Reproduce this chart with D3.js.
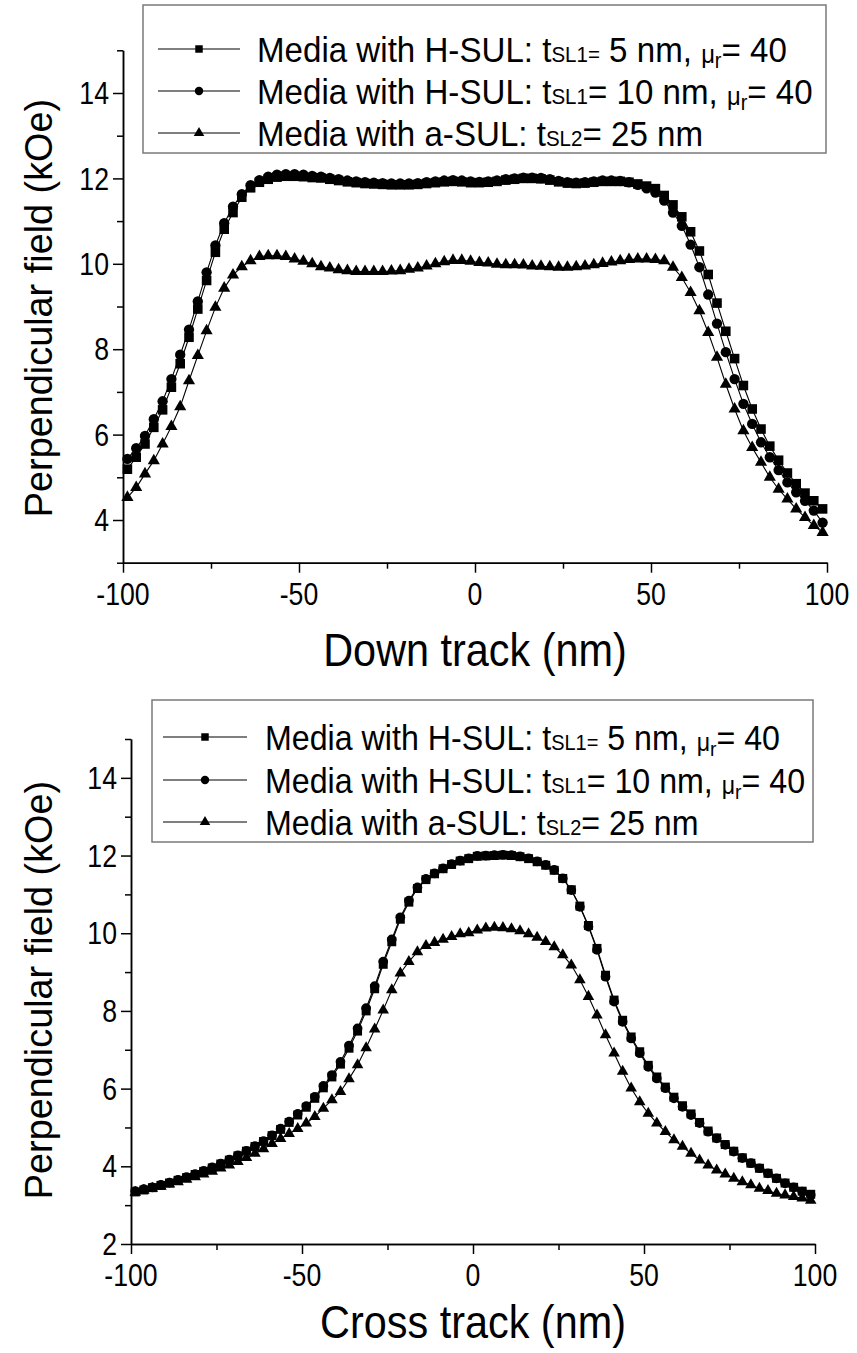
<!DOCTYPE html>
<html>
<head>
<meta charset="utf-8">
<script src="https://cdn.jsdelivr.net/npm/d3@7"></script>
<style>
  body { margin: 0; background: #fff; }
  svg text { font-family: "Liberation Sans", Arial, sans-serif; fill: #000; }
</style>
</head>
<body>
<div id="wrapper"></div>
<script>
// 1. Data

// sample positions (nm), shared by both panels
const positionNm = [
  -98.75, -96.25, -93.75, -91.25, -88.75, -86.25, -83.75, -81.25, -78.75, -76.25,
  -73.75, -71.25, -68.75, -66.25, -63.75, -61.25, -58.75, -56.25, -53.75, -51.25,
  -48.75, -46.25, -43.75, -41.25, -38.75, -36.25, -33.75, -31.25, -28.75, -26.25,
  -23.75, -21.25, -18.75, -16.25, -13.75, -11.25, -8.75, -6.25, -3.75, -1.25,
  1.25, 3.75, 6.25, 8.75, 11.25, 13.75, 16.25, 18.75, 21.25, 23.75,
  26.25, 28.75, 31.25, 33.75, 36.25, 38.75, 41.25, 43.75, 46.25, 48.75,
  51.25, 53.75, 56.25, 58.75, 61.25, 63.75, 66.25, 68.75, 71.25, 73.75,
  76.25, 78.75, 81.25, 83.75, 86.25, 88.75, 91.25, 93.75, 96.25, 98.75
];

// down track panel (kOe)
const downHsul5 = [
  5.19, 5.47, 5.78, 6.17, 6.58, 7.11, 7.66, 8.28, 8.94, 9.61,
  10.27, 10.81, 11.20, 11.56, 11.78, 11.91, 11.98, 12.03, 12.05, 12.05,
  12.04, 12.02, 12.01, 11.98, 11.95, 11.92, 11.90, 11.88, 11.87, 11.86,
  11.85, 11.85, 11.85, 11.86, 11.88, 11.90, 11.92, 11.93, 11.92, 11.90,
  11.90, 11.91, 11.93, 11.96, 11.98, 12.00, 12.00, 11.99, 11.96, 11.92,
  11.89, 11.88, 11.89, 11.91, 11.93, 11.93, 11.93, 11.91, 11.87, 11.82,
  11.76, 11.60, 11.38, 11.10, 10.75, 10.30, 9.75, 9.08, 8.42, 7.78,
  7.15, 6.60, 6.13, 5.73, 5.40, 5.10, 4.85, 4.63, 4.45, 4.26
];
const downHsul10 = [
  5.43, 5.68, 5.97, 6.36, 6.78, 7.30, 7.87, 8.46, 9.12, 9.80,
  10.43, 10.95, 11.34, 11.63, 11.84, 11.96, 12.04, 12.09, 12.10, 12.10,
  12.09, 12.06, 12.04, 12.01, 11.98, 11.95, 11.93, 11.91, 11.90, 11.89,
  11.88, 11.88, 11.88, 11.89, 11.91, 11.93, 11.95, 11.96, 11.95, 11.93,
  11.92, 11.93, 11.95, 11.98, 12.00, 12.02, 12.02, 12.01, 11.98, 11.94,
  11.91, 11.90, 11.91, 11.93, 11.95, 11.95, 11.94, 11.91, 11.85, 11.77,
  11.67, 11.48, 11.20, 10.89, 10.45, 9.92, 9.28, 8.60, 7.93, 7.30,
  6.72, 6.25, 5.82, 5.47, 5.17, 4.88, 4.65, 4.45, 4.22, 3.94
];
const downAsul = [
  4.53, 4.76, 5.08, 5.39, 5.78, 6.19, 6.65, 7.26, 7.85, 8.43,
  8.98, 9.43, 9.74, 9.93, 10.07, 10.17, 10.19, 10.19, 10.17, 10.11,
  10.06, 10.00, 9.93, 9.90, 9.86, 9.84, 9.82, 9.82, 9.82, 9.82,
  9.83, 9.84, 9.87, 9.90, 9.95, 10.00, 10.05, 10.08, 10.08, 10.06,
  10.03, 10.02, 9.99, 9.98, 9.98, 9.97, 9.95, 9.94, 9.93, 9.92,
  9.92, 9.93, 9.95, 9.98, 10.01, 10.04, 10.07, 10.10, 10.11, 10.11,
  10.10, 10.07, 9.92, 9.68, 9.33, 8.90, 8.39, 7.81, 7.18, 6.60,
  6.09, 5.70, 5.35, 5.00, 4.72, 4.49, 4.26, 4.06, 3.87, 3.71
];

// cross track panel (kOe)
const crossHsul5 = [
  3.34, 3.39, 3.45, 3.51, 3.57, 3.64, 3.71, 3.79, 3.87, 3.96,
  4.06, 4.16, 4.27, 4.39, 4.51, 4.64, 4.79, 4.95, 5.13, 5.32,
  5.52, 5.75, 6.02, 6.30, 6.63, 7.04, 7.48, 8.00, 8.57, 9.20,
  9.78, 10.36, 10.80, 11.15, 11.38, 11.53, 11.66, 11.77, 11.86, 11.92,
  11.98, 11.99, 12.00, 12.01, 12.00, 11.97, 11.92, 11.84, 11.75, 11.62,
  11.41, 11.12, 10.70, 10.20, 9.61, 8.92, 8.28, 7.76, 7.33, 6.95,
  6.60, 6.30, 6.04, 5.78, 5.56, 5.35, 5.13, 4.91, 4.73, 4.56,
  4.39, 4.22, 4.08, 3.95, 3.82, 3.69, 3.57, 3.46, 3.36, 3.28
];
const crossHsul10 = [
  3.36, 3.41, 3.46, 3.52, 3.58, 3.65, 3.72, 3.80, 3.88, 3.97,
  4.07, 4.17, 4.28, 4.40, 4.52, 4.65, 4.80, 4.97, 5.15, 5.35,
  5.55, 5.79, 6.07, 6.35, 6.69, 7.11, 7.55, 8.07, 8.64, 9.27,
  9.84, 10.41, 10.84, 11.18, 11.40, 11.54, 11.67, 11.78, 11.87, 11.93,
  11.99, 12.00, 12.01, 12.02, 12.01, 11.98, 11.93, 11.85, 11.76, 11.63,
  11.41, 11.11, 10.68, 10.17, 9.57, 8.88, 8.24, 7.72, 7.29, 6.91,
  6.56, 6.26, 6.01, 5.75, 5.53, 5.32, 5.11, 4.89, 4.72, 4.55,
  4.38, 4.21, 4.08, 3.95, 3.82, 3.69, 3.56, 3.46, 3.35, 3.26
];
const crossAsul = [
  3.33, 3.38, 3.43, 3.48, 3.54, 3.60, 3.66, 3.73, 3.80, 3.87,
  3.95, 4.03, 4.12, 4.22, 4.33, 4.45, 4.58, 4.71, 4.84, 4.97,
  5.11, 5.28, 5.49, 5.71, 5.92, 6.25, 6.61, 7.05, 7.53, 8.02,
  8.54, 8.97, 9.27, 9.52, 9.68, 9.76, 9.84, 9.91, 9.98, 10.01,
  10.08, 10.13, 10.15, 10.14, 10.11, 10.06, 9.98, 9.89, 9.78, 9.65,
  9.44, 9.18, 8.80, 8.37, 7.89, 7.38, 6.91, 6.44, 6.01, 5.66,
  5.36, 5.11, 4.89, 4.68, 4.51, 4.33, 4.16, 4.03, 3.90, 3.80,
  3.69, 3.60, 3.52, 3.43, 3.37, 3.30, 3.26, 3.22, 3.18, 3.12
];

// axes
const xMajorTicks = [-100, -50, 0, 50, 100];
const xMinorTicks = [-75, -25, 25, 75];
const downYMajorTicks = [4, 6, 8, 10, 12, 14];
const downYMinorTicks = [3, 5, 7, 9, 11, 13, 15];
const crossYMajorTicks = [2, 4, 6, 8, 10, 12, 14];
const crossYMinorTicks = [3, 5, 7, 9, 11, 13, 15];

// legend entries: [text, relative size, baseline shift]
const legendEntries = [
  [['Media with H-SUL: t', 1, 0], ['SL1=', 0.62, 0], [' 5 nm, ', 1, 0], ['\u03bc', 0.72, 1], ['r', 0.6, 6], ['= 40', 1, 0]],
  [['Media with H-SUL: t', 1, 0], ['SL1', 0.62, 0], ['= 10 nm, ', 1, 0], ['\u03bc', 0.72, 1], ['r', 0.6, 6], ['= 40', 1, 0]],
  [['Media with a-SUL: t', 1, 0], ['SL2', 0.62, 0], ['= 25 nm', 1, 0]]
];
const markerTypes = [d3.symbolSquare, d3.symbolCircle, d3.symbolTriangle];

// 2. Draw canvas

const svg = d3
  .select('#wrapper')
  .append('svg')
  .attr('width', 857)
  .attr('height', 1353);

svg.append('rect').attr('width', 857).attr('height', 1353).attr('fill', '#fff');

// squeezed text helper (the figure's lettering is condensed)
function squeezedText(parent, x, y, str, size, sx, anchor, rotate) {
  return parent
    .append('text')
    .attr('transform', `translate(${x},${y}) rotate(${rotate || 0}) scale(${sx},1)`)
    .attr('text-anchor', anchor)
    .attr('font-size', size)
    .text(str);
}

function drawPanel(cfg) {
  const xScale = d3.scaleLinear().domain([-100, 100]).range(cfg.xRange);
  const yScale = d3.scaleLinear().domain(cfg.yDomain).range(cfg.yRange);
  const g = svg.append('g');

  // lines + markers
  const lineGenerator = d3
    .line()
    .x((d, i) => xScale(positionNm[i]))
    .y((d) => yScale(d));

  cfg.series.forEach((values) => {
    g.append('path')
      .attr('d', lineGenerator(values))
      .attr('fill', 'none')
      .attr('stroke', '#000')
      .attr('stroke-width', 1.1);
  });
  cfg.series.forEach((values, s) => {
    const sym = d3.symbol().type(markerTypes[s]).size(cfg.markerSizes[s]);
    g.append('g')
      .selectAll('path')
      .data(values)
      .join('path')
      .attr('d', sym)
      .attr('fill', '#000')
      .attr('transform', (d, i) => `translate(${xScale(positionNm[i])},${yScale(d)})`);
  });

  // axes
  const axisBottom = cfg.yRange[0];
  const axisLeft = cfg.xRange[0];
  const xAxisG = g.append('g').attr('transform', `translate(0,${axisBottom})`);
  xAxisG.call(d3.axisBottom(xScale).tickValues(xMajorTicks).tickSize(10).tickSizeOuter(0).tickFormat(''));
  xAxisG.call((a) => a.append('g').call(d3.axisBottom(xScale).tickValues(xMinorTicks).tickSize(6).tickSizeOuter(0).tickFormat('')));
  const yAxisG = g.append('g').attr('transform', `translate(${axisLeft},0)`);
  yAxisG.call(d3.axisLeft(yScale).tickValues(cfg.yMajor).tickSize(10).tickSizeOuter(0).tickFormat(''));
  yAxisG.call((a) => a.append('g').call(d3.axisLeft(yScale).tickValues(cfg.yMinor).tickSize(6).tickSizeOuter(0).tickFormat('')));
  g.selectAll('.domain, .tick line').attr('stroke', '#000').attr('stroke-width', 1.5);

  xMajorTicks.forEach((v) => {
    squeezedText(g, xScale(v), axisBottom + cfg.xLabelDy, String(v), cfg.tickFont, 0.86, 'middle');
  });
  cfg.yMajor.forEach((v) => {
    squeezedText(g, axisLeft - 14, yScale(v) + cfg.tickFont * 0.36, String(v), cfg.tickFont, 0.86, 'end');
  });

  squeezedText(g, cfg.yTitle[0], cfg.yTitle[1], 'Perpendicular field (kOe)', 39, 0.97, 'middle', -90);
  squeezedText(g, cfg.xTitle[0], cfg.xTitle[1], cfg.xLabel, 46, 0.9, 'middle');

  // legend
  const lb = cfg.legendBox;
  g.append('rect')
    .attr('x', lb[0]).attr('y', lb[1])
    .attr('width', lb[2] - lb[0]).attr('height', lb[3] - lb[1])
    .attr('fill', '#fff')
    .attr('stroke', '#7a7a7a')
    .attr('stroke-width', 1.5);

  legendEntries.forEach((pieces, r) => {
    const ry = cfg.legendRows[r];
    const [x0, x1] = cfg.legendLine;
    g.append('line')
      .attr('x1', x0).attr('x2', x1).attr('y1', ry).attr('y2', ry)
      .attr('stroke', '#000').attr('stroke-width', 1.2);
    g.append('path')
      .attr('d', d3.symbol().type(markerTypes[r]).size(cfg.legendMarkerSizes[r]))
      .attr('transform', `translate(${(x0 + x1) / 2},${ry})`);

    const text = g
      .append('text')
      .attr('transform', `translate(${cfg.legendTextX},${ry + cfg.legendFont * 0.36}) scale(0.92,1)`)
      .attr('font-size', cfg.legendFont);
    let shift = 0;
    pieces.forEach(([str, rel, base]) => {
      text.append('tspan')
        .attr('font-size', cfg.legendFont * rel)
        .attr('dy', base - shift)
        .text(str);
      shift = base;
    });
  });
}

// 3. Panels

drawPanel({
  xRange: [123, 827],
  yDomain: [3, 15],
  yRange: [562.7, 50.3],
  yMajor: downYMajorTicks,
  yMinor: downYMinorTicks,
  series: [downHsul5, downHsul10, downAsul],
  markerSizes: [92, 84, 64],
  tickFont: 31,
  xLabelDy: 42,
  yTitle: [52, 308],
  xTitle: [475, 666],
  xLabel: 'Down track (nm)',
  legendBox: [143, 5, 826, 153],
  legendRows: [49, 91, 133],
  legendLine: [158, 240],
  legendTextX: 257,
  legendFont: 36,
  legendMarkerSizes: [56, 56, 48],
});

drawPanel({
  xRange: [131, 815],
  yDomain: [2, 15],
  yRange: [1244, 739],
  yMajor: crossYMajorTicks,
  yMinor: crossYMinorTicks,
  series: [crossHsul5, crossHsul10, crossAsul],
  markerSizes: [80, 74, 58],
  tickFont: 31,
  xLabelDy: 42,
  yTitle: [52, 990],
  xTitle: [473, 1338],
  xLabel: 'Cross track (nm)',
  legendBox: [152, 700, 813, 842],
  legendRows: [737, 780, 822],
  legendLine: [163, 247],
  legendTextX: 265,
  legendFont: 35,
  legendMarkerSizes: [56, 56, 48],
});
</script>
</body>
</html>
